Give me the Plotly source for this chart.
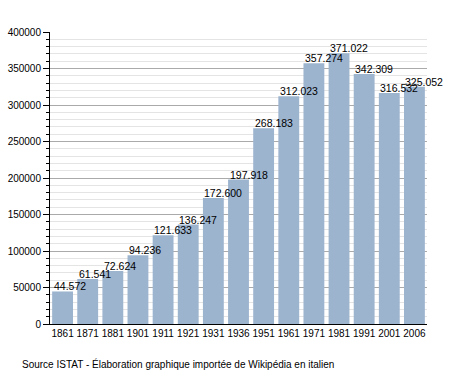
import plotly.graph_objects as go

years = ["1861", "1871", "1881", "1901", "1911", "1921", "1931", "1936",
         "1951", "1961", "1971", "1981", "1991", "2001", "2006"]
population = [44572, 61541, 72624, 94236, 121633, 136247, 172600, 197918,
              268183, 312023, 357274, 371022, 342309, 316532, 325052]
labels = ["44.572", "61.541", "72.624", "94.236", "121.633", "136.247", "172.600",
          "197.918", "268.183", "312.023", "357.274", "371.022", "342.309",
          "316.532", "325.052"]
y_ticks = [0, 50000, 100000, 150000, 200000, 250000, 300000, 350000, 400000]

FONT = "Liberation Sans, Arial, sans-serif"

fig = go.Figure()
fig.add_trace(go.Bar(x=years, y=population, marker_color="#9db4cf",
                     marker_line_width=0, hoverinfo="x+y"))

for i, (val, lab) in enumerate(zip(population, labels)):
    fig.add_annotation(x=i, y=val, text=lab, showarrow=False,
                       xanchor="left", yanchor="bottom", xshift=-11, yshift=-3,
                       font=dict(family=FONT, size=10.5, color="#000"))

fig.add_annotation(text="Source ISTAT - Élaboration graphique importée de Wikipédia en italien",
                   xref="paper", yref="paper", x=-30/377, y=-32/292,
                   xanchor="left", yanchor="top", showarrow=False,
                   font=dict(family=FONT, size=10, color="#000"))

fig.update_layout(
    width=455, height=373,
    margin=dict(l=50, r=28, t=32, b=49, autoexpand=False),
    paper_bgcolor="white", plot_bgcolor="white",
    bargap=0.17, showlegend=False,
    font=dict(family=FONT, size=10, color="#000"),
    xaxis=dict(type="category", categoryorder="array", categoryarray=years,
               range=[-0.5, len(years) - 0.5], autorange=False, automargin=False,
               showline=True, linecolor="#000", linewidth=1, tickangle=0,
               ticks="", tickfont=dict(size=10), showgrid=False),
    yaxis=dict(range=[0, 400000], autorange=False, automargin=False, tickvals=y_ticks,
               ticktext=[str(v) for v in y_ticks],
               showline=True, linecolor="#000", linewidth=1,
               ticks="outside", ticklen=6, tickcolor="#000",
               showgrid=True, gridcolor="#aaaaaa", gridwidth=1,
               zeroline=False, tickfont=dict(size=10),
               minor=dict(dtick=10000, ticks="outside", ticklen=3, tickcolor="#000",
                          showgrid=True, gridcolor="#e4e4e4")),
)

fig.write_html("out.html", config={"displayModeBar": False},
               post_script="document.body.style.margin='0';")
